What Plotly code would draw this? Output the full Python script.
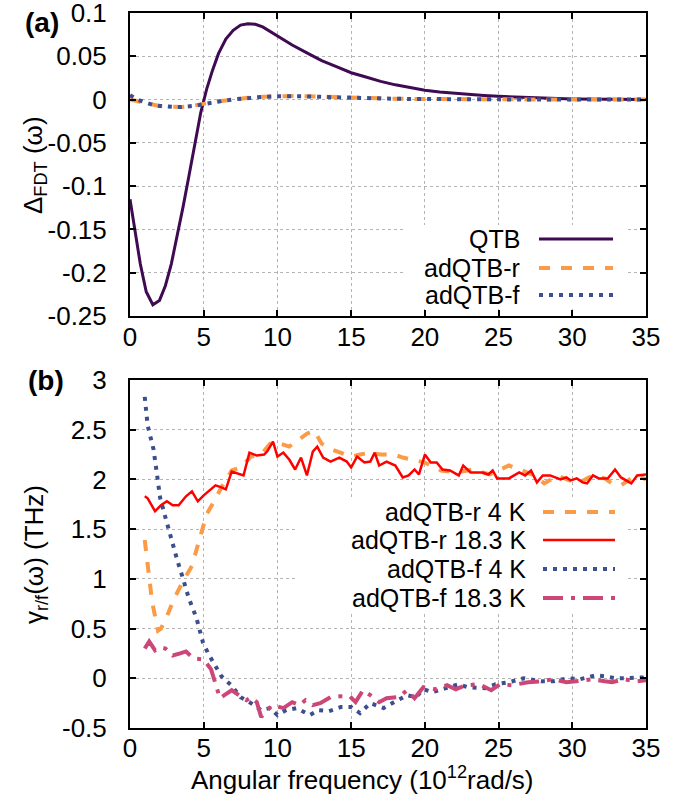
import plotly.graph_objects as go

# ---------------- data: panel (a) ----------------
qtb_x = [0, 0.35, 0.7, 1.1, 1.55, 2.0, 2.4, 2.8, 3.2, 3.6, 4.0, 4.4, 4.8, 5.2, 5.6, 6.0, 6.5, 7.0,
         7.5, 8.0, 8.5, 9.0, 10, 11, 12, 13, 14, 15, 16, 17, 18, 19, 20, 21, 22, 23, 24, 25, 26,
         27, 28, 29, 30, 31, 32, 33, 34, 35]
qtb_y = [-0.115, -0.155, -0.19, -0.222, -0.237, -0.232, -0.215, -0.19, -0.158, -0.124, -0.088,
         -0.05, -0.015, 0.012, 0.034, 0.053, 0.07, 0.080, 0.086, 0.0875, 0.087, 0.084, 0.074,
         0.063, 0.054, 0.045, 0.038, 0.031, 0.026, 0.021, 0.017, 0.0135, 0.0108, 0.0088, 0.0072,
         0.006, 0.0048, 0.0038, 0.003, 0.0022, 0.0016, 0.0011, 0.0008, 0.0005, 0.0003, 0.0002,
         0.0001, 0.0]

ad_x = [0, 0.5, 1, 1.5, 2, 2.5, 3, 3.5, 4, 4.5, 5, 5.5, 6, 6.5, 7, 7.5, 8, 9, 10, 11, 12, 13, 14,
        15, 16, 17, 18, 19, 20, 22, 24, 26, 28, 30, 32, 35]
adr_y = [0.0, -0.002, -0.004, -0.0062, -0.0075, -0.0083, -0.0086, -0.0085, -0.008, -0.0068,
         -0.005, -0.0033, -0.002, -0.0008, 0.0003, 0.0012, 0.002, 0.0033, 0.004, 0.0042, 0.0038,
         0.0032, 0.0026, 0.0021, 0.0017, 0.0013, 0.001, 0.0008, 0.0006, 0.0004, 0.0003, 0.0002,
         0.0001, 0.0, 0.0, 0.0]
adf_y = [0.005, 0.0, -0.003, -0.0058, -0.0073, -0.0082, -0.0086, -0.0086, -0.0081, -0.007,
         -0.0052, -0.0035, -0.0021, -0.0009, 0.0002, 0.0011, 0.0019, 0.0031, 0.0038, 0.004,
         0.0037, 0.0031, 0.0025, 0.002, 0.0016, 0.0012, 0.0009, 0.0007, 0.0005, 0.0003, 0.0002,
         0.0001, 0.0, 0.0, 0.0, 0.0]

# ---------------- data: panel (b) ----------------
r4_x = [1.0, 1.2, 1.5, 1.9, 2.1, 2.5, 2.9, 3.5, 4.2, 4.7, 5.2, 5.7, 6.2, 6.9, 7.5, 8.2, 8.9, 9.5,
        10.2, 10.8, 11.5, 12.0, 12.5, 13.0, 13.7, 14.3, 15.0, 15.6, 16.3, 17.0, 17.9, 18.5, 19.1,
        20.0, 20.4, 21.1, 22.1, 23.3, 24.4, 25.2, 25.7, 26.6, 27.4, 28.1, 29.0, 29.8, 30.5, 31.4,
        32.2, 32.7, 33.3, 34.0, 34.4, 35.0]
r4_y = [1.39, 1.13, 0.77, 0.48, 0.50, 0.62, 0.77, 0.95, 1.13, 1.39, 1.65, 1.78, 1.92, 2.09, 2.12,
        2.23, 2.25, 2.36, 2.36, 2.33, 2.41, 2.46, 2.49, 2.36, 2.30, 2.27, 2.23, 2.25, 2.27, 2.25,
        2.25, 2.22, 2.20, 2.17, 2.14, 2.09, 2.07, 2.10, 2.05, 2.10, 2.14, 2.09, 2.04, 1.96, 2.04,
        1.99, 1.97, 2.04, 2.01, 1.96, 1.94, 2.01, 2.04, 2.00]

r18_x = [1.0, 1.2, 1.7, 2.1, 2.5, 2.9, 3.3, 3.8, 4.2, 4.6, 5.0, 5.4, 5.8, 6.2, 6.5, 6.9, 7.3, 7.7,
         8.1, 8.6, 9.1, 9.3, 9.7, 10.0, 10.4, 10.8, 11.2, 11.6, 12.0, 12.4, 12.7, 13.1, 13.6, 14.2,
         14.7, 15.0, 15.4, 15.9, 16.3, 16.6, 16.9, 17.4, 18.0, 18.5, 18.9, 19.3, 19.6, 20.0, 20.4,
         20.8, 21.2, 21.7, 22.3, 22.6, 23.1, 23.9, 24.3, 24.6, 24.9, 25.7, 26.4, 26.8, 27.2, 27.6,
         28.0, 28.5, 29.2, 29.6, 29.9, 30.3, 30.7, 31.0, 31.4, 31.8, 32.4, 32.9, 33.3, 34.0, 34.4,
         35.0]
r18_y = [1.83, 1.81, 1.68, 1.74, 1.78, 1.74, 1.74, 1.83, 1.88, 1.78, 1.84, 1.89, 1.94, 1.92, 1.90,
         2.08, 2.06, 2.04, 2.27, 2.24, 2.25, 2.28, 2.38, 2.23, 2.27, 2.20, 2.10, 2.22, 2.04, 2.28,
         2.33, 2.22, 2.18, 2.22, 2.18, 2.12, 2.23, 2.17, 2.18, 2.27, 2.14, 2.18, 2.14, 2.02, 2.04,
         2.10, 2.05, 2.25, 2.17, 2.17, 2.10, 2.09, 2.04, 2.14, 2.07, 2.07, 2.05, 2.09, 2.01, 2.01,
         2.07, 2.04, 2.09, 1.97, 2.04, 2.04, 2.00, 2.02, 1.99, 2.01, 1.97, 1.96, 2.04, 2.01, 2.01,
         2.10, 2.02, 1.96, 2.04, 2.05]

f4_x = [1.0, 1.2, 1.6, 1.8, 2.05, 2.4, 2.8, 3.2, 3.6, 4.0, 4.5, 4.95, 5.3, 5.8, 6.2, 6.9, 7.5, 8.2,
        8.9, 9.5, 10.0, 10.6, 11.3, 12.2, 12.8, 13.5, 14.3, 15.0, 15.6, 16.3, 17.2, 17.9, 18.8,
        19.4, 19.9, 20.5, 21.2, 22.3, 22.9, 24.1, 24.8, 25.7, 26.7, 27.9, 28.7, 29.7, 30.5, 31.6,
        32.2, 32.9, 33.5, 34.4, 35.0]
f4_y = [2.83, 2.54, 2.30, 2.07, 1.81, 1.62, 1.39, 1.19, 1.0, 0.80, 0.61, 0.36, 0.25, 0.12, 0.02,
        -0.075, -0.19, -0.25, -0.32, -0.30, -0.37, -0.32, -0.30, -0.37, -0.32, -0.33, -0.29,
        -0.29, -0.35, -0.25, -0.30, -0.24, -0.17, -0.19, -0.11, -0.14, -0.11, -0.06, -0.09, -0.10,
        -0.06, -0.04, 0.0, -0.03, -0.03, 0.0, -0.01, 0.03, 0.02, 0.0, 0.0, 0.0, 0.01]

f18_x = [1.0, 1.3, 1.7, 2.1, 2.4, 2.9, 3.4, 3.8, 4.3, 5.0, 5.5, 5.8, 6.1, 6.4, 6.9, 7.4, 7.9, 8.2,
         8.6, 8.9, 9.3, 9.7, 10.4, 11.0, 11.5, 11.9, 12.4, 12.9, 13.6, 14.3, 14.9, 15.3, 15.8,
         16.3, 16.9, 17.4, 18.2, 18.8, 19.3, 19.9, 20.7, 21.5, 22.1, 22.8, 23.7, 24.5, 25.1, 25.9,
         27.0, 27.9, 28.7, 29.6, 30.5, 31.4, 32.2, 32.7, 33.5, 34.4, 35.0]
f18_y = [0.30, 0.37, 0.28, 0.31, 0.30, 0.23, 0.25, 0.27, 0.20, 0.19, 0.09, -0.07, -0.20, -0.17,
         -0.12, -0.17, -0.22, -0.19, -0.24, -0.39, -0.32, -0.27, -0.30, -0.24, -0.27, -0.22, -0.27,
         -0.25, -0.19, -0.18, -0.18, -0.24, -0.12, -0.17, -0.24, -0.20, -0.19, -0.12, -0.20, -0.09,
         -0.11, -0.07, -0.11, -0.07, -0.06, -0.12, -0.06, -0.07, -0.04, -0.03, -0.01, -0.04, -0.03,
         -0.01, -0.03, -0.04, -0.01, -0.03, -0.02]

x_ticks = [0, 5, 10, 15, 20, 25, 30, 35]
ya_ticks = [0.1, 0.05, 0, -0.05, -0.1, -0.15, -0.2, -0.25]
ya_text = ["0.1", "0.05", "0", "-0.05", "-0.1", "-0.15", "-0.2", "-0.25"]
yb_ticks = [3, 2.5, 2, 1.5, 1, 0.5, 0, -0.5]
yb_text = ["3", "2.5", "2", "1.5", "1", "0.5", "0", "-0.5"]

legend_a = ["QTB", "adQTB-r", "adQTB-f"]
legend_b = ["adQTB-r 4 K", "adQTB-r 18.3 K", "adQTB-f 4 K", "adQTB-f 18.3 K"]

# ---------------- styles ----------------
C_QTB = "#3f0a52"
C_OR = "#fb9a47"
C_BL = "#3b4f8f"
C_RED = "#ff0000"
C_PK = "#cc4777"
FONT = "Liberation Sans"
FS = 26

st_a = [dict(color=C_QTB, width=3, dash="solid"),
        dict(color=C_OR, width=4, dash="11px,11px"),
        dict(color=C_BL, width=4, dash="4px,6px")]
st_b = [dict(color=C_OR, width=4, dash="11px,11px"),
        dict(color=C_RED, width=2.5, dash="solid"),
        dict(color=C_BL, width=4, dash="4px,6px"),
        dict(color=C_PK, width=4, dash="20px,8px,4px,8px")]

fig = go.Figure()

for xs, ys, st, nm in [(qtb_x, qtb_y, st_a[0], legend_a[0]),
                       (ad_x, adr_y, st_a[1], legend_a[1]),
                       (ad_x, adf_y, st_a[2], legend_a[2])]:
    fig.add_trace(go.Scatter(x=xs, y=ys, mode="lines", line=st, name=nm,
                             xaxis="x2", yaxis="y2", showlegend=False))

for xs, ys, st, nm in [(r4_x, r4_y, st_b[0], legend_b[0]),
                       (r18_x, r18_y, st_b[1], legend_b[1]),
                       (f4_x, f4_y, st_b[2], legend_b[2]),
                       (f18_x, f18_y, st_b[3], legend_b[3])]:
    fig.add_trace(go.Scatter(x=xs, y=ys, mode="lines", line=st, name=nm,
                             xaxis="x", yaxis="y", showlegend=False))

# ---------------- layout (pixel helpers for decorations) ----------------
W, H = 696, 808
L, R, T, B = 130, 50, 13, 80
PW, PH = W - L - R, H - T - B


def px(xp):
    return (xp - L) / PW


def py(yp):
    return (H - B - yp) / PH


common_ax = dict(showline=True, linecolor="black", linewidth=2, mirror="ticks",
                 ticks="inside", ticklen=6, tickwidth=1.5, tickcolor="black",
                 showgrid=True, gridcolor="#b4b4b4", gridwidth=1, griddash="dot",
                 zeroline=False, automargin=False, ticklabeloverflow="allow",
                 tickfont=dict(family=FONT, size=FS, color="black"))

fig.update_layout(
    width=W, height=H, margin=dict(l=L, r=R, t=T, b=B, autoexpand=False),
    paper_bgcolor="white", plot_bgcolor="white",
    font=dict(family=FONT, size=FS, color="black"),
    showlegend=False,
    xaxis=dict(domain=[0, 1], anchor="y", range=[0, 35], tickvals=x_ticks,
               ticklabelstandoff=-4, **common_ax),
    yaxis=dict(domain=[0, py(380)], anchor="x", range=[-0.5, 3], tickvals=yb_ticks,
               ticktext=yb_text, ticklabelstandoff=16, **common_ax),
    xaxis2=dict(domain=[0, 1], anchor="y2", range=[0, 35], tickvals=x_ticks,
                ticklabelstandoff=-3, **common_ax),
    yaxis2=dict(domain=[py(316), 1], anchor="x2", range=[-0.25, 0.1], tickvals=ya_ticks,
                ticktext=ya_text, ticklabelstandoff=16, **common_ax),
)

shapes = []
annotations = []

# white legend boxes
shapes.append(dict(type="rect", xref="paper", yref="paper", x0=px(405), x1=px(628),
                   y0=py(309), y1=py(225), fillcolor="white", line=dict(width=0), layer="above"))
shapes.append(dict(type="rect", xref="paper", yref="paper", x0=px(297), x1=px(628),
                   y0=py(612), y1=py(498), fillcolor="white", line=dict(width=0), layer="above"))

# legend (a)
for i, (nm, st) in enumerate(zip(legend_a, st_a)):
    yy = py([239, 268, 295][i])
    annotations.append(dict(xref="paper", yref="paper", x=px(522), y=yy, text=nm,
                            showarrow=False, xanchor="right", yanchor="middle",
                            font=dict(family=FONT, size=FS - 1, color="black")))
    shapes.append(dict(type="line", xref="paper", yref="paper", x0=px(539), x1=px(613),
                       y0=yy, y1=yy, line=st, layer="above"))

# legend (b)
for i, (nm, st) in enumerate(zip(legend_b, st_b)):
    yy = py([512, 540, 569, 598][i])
    annotations.append(dict(xref="paper", yref="paper", x=px(528), y=yy, text=nm,
                            showarrow=False, xanchor="right", yanchor="middle",
                            font=dict(family=FONT, size=FS - 1, color="black")))
    shapes.append(dict(type="line", xref="paper", yref="paper", x0=px(543), x1=px(615),
                       y0=yy, y1=yy, line=st, layer="above"))

# axis titles and panel labels
annotations.append(dict(xref="paper", yref="paper", x=px(35), y=py(165),
                        text="Δ<sub>FDT</sub> (ω)", textangle=-90, showarrow=False,
                        xanchor="center", yanchor="middle",
                        font=dict(family=FONT, size=FS, color="black")))
annotations.append(dict(xref="paper", yref="paper", x=px(35), y=py(555),
                        text="γ<sub>r/f</sub>(ω) (THz)", textangle=-90, showarrow=False,
                        xanchor="center", yanchor="middle",
                        font=dict(family=FONT, size=FS, color="black")))
annotations.append(dict(xref="paper", yref="paper", x=px(362), y=py(778),
                        text="Angular frequency (10<sup>12</sup>rad/s)", showarrow=False,
                        xanchor="center", yanchor="middle",
                        font=dict(family=FONT, size=FS, color="black")))
annotations.append(dict(xref="paper", yref="paper", x=px(42), y=py(23), text="<b>(a)</b>",
                        showarrow=False, xanchor="center", yanchor="middle",
                        font=dict(family=FONT, size=FS + 2, color="black")))
annotations.append(dict(xref="paper", yref="paper", x=px(46), y=py(380), text="<b>(b)</b>",
                        showarrow=False, xanchor="center", yanchor="middle",
                        font=dict(family=FONT, size=FS + 2, color="black")))

fig.update_layout(shapes=shapes, annotations=annotations)

fig.write_html("out.html")
